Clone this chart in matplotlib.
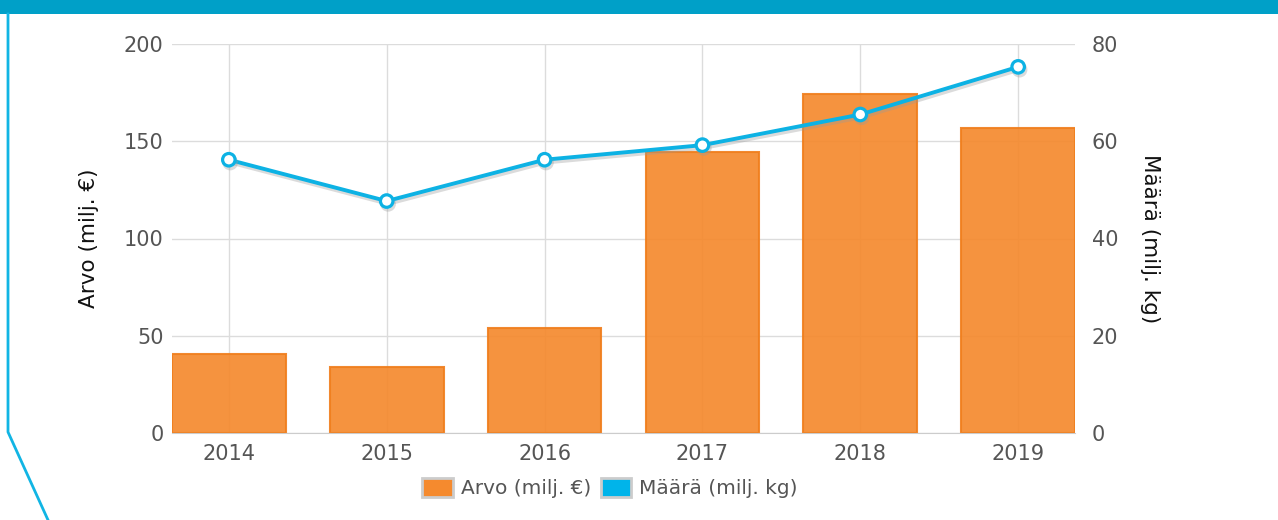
import matplotlib.pyplot as plt
import matplotlib.patheffects as pe
from matplotlib.patches import Patch, Rectangle
from matplotlib.lines import Line2D
import numpy as np

years = ["2014", "2015", "2016", "2017", "2018", "2019"]
arvo = [40.5, 34, 54, 144.5, 174.5, 157]        # milj. €
maara = [56.2, 47.7, 56.2, 59.2, 65.5, 75.3]    # milj. kg

BAR = "#F58A2E"
BAR_EDGE = "#F07F1E"
LINE = "#0DB2E4"
TXT = "#555555"
GRID = "#dcdcdc"

plt.rcParams["font.family"] = ["DejaVu Sans"]

fig = plt.figure(figsize=(12.78, 5.2), dpi=100)
ax = fig.add_axes([172 / 1278, 1 - 433 / 520, (1075 - 172) / 1278, (433 - 44) / 520])
ax2 = ax.twinx()

x = np.arange(len(years))
ax.bar(x, arvo, width=0.72, color=BAR, alpha=0.92, edgecolor=BAR_EDGE,
       linewidth=1.5, zorder=2)
ax.set_xlim(-0.36, 5.36)
ax.set_ylim(0, 200)
ax.set_yticks([0, 50, 100, 150, 200])
ax.set_xticks(x)
ax.set_xticklabels(years)
ax.grid(True, color=GRID, linewidth=1, zorder=0)
ax.set_axisbelow(True)

ax2.plot(x, maara, color=LINE, lw=2.8, marker="o", ms=9, mfc="white",
         mec=LINE, mew=2.3, zorder=5,
         path_effects=[pe.SimpleLineShadow(offset=(1, -2), shadow_color="#999999",
                                           alpha=0.35), pe.Normal()])
ax2.set_ylim(0, 80)
ax2.set_yticks([0, 20, 40, 60, 80])

for a in (ax, ax2):
    for s in a.spines.values():
        s.set_visible(False)
    a.tick_params(length=0, labelsize=15, colors=TXT)
ax.spines["bottom"].set_visible(True)
ax.spines["bottom"].set_color("#cccccc")
ax.tick_params(axis="y", pad=6)
ax.tick_params(axis="x", pad=8)
ax2.tick_params(axis="y", pad=12)

ax.set_ylabel("Arvo (milj. €)", fontsize=15.5, color="#111111", labelpad=18)
ax2.set_ylabel("Määrä (milj. kg)", fontsize=15.5, color="#111111",
               rotation=270, labelpad=30)

handles = [Patch(facecolor=BAR, edgecolor="#cccccc", linewidth=2),
           Patch(facecolor="#00B4EA", edgecolor="#cccccc", linewidth=2)]
fig.legend(handles, ["Arvo (milj. €)", "Määrä (milj. kg)"], loc="center",
           bbox_to_anchor=(610 / 1278, 1 - 488 / 520), ncol=2, frameon=False,
           fontsize=14.5, handlelength=1.5, handleheight=1.1, handletextpad=0.4,
           columnspacing=0.5, labelcolor=TXT)

# frame decoration
fig.patches.append(Rectangle((0, 1 - 14 / 520), 1, 14 / 520, transform=fig.transFigure,
                             facecolor="#00A0C8", edgecolor="none"))
fig.add_artist(Line2D([8 / 1278, 8 / 1278, 48 / 1278],
                      [1 - 14 / 520, 1 - 432 / 520, 0], transform=fig.transFigure,
                      color="#11B5E4", lw=2))

fig.savefig("out.png", dpi=100)
